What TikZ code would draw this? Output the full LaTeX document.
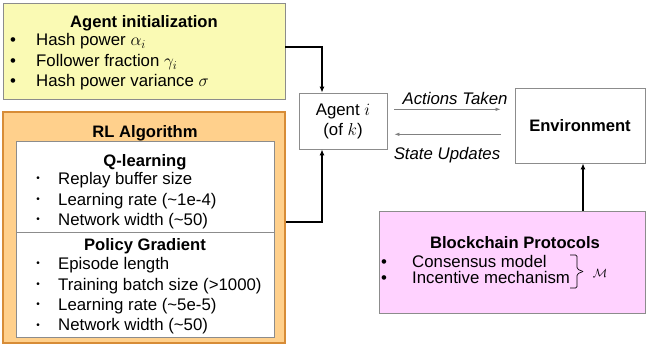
\documentclass[tikz,border=0pt]{standalone}
\usepackage{fontspec}
\setmainfont{Liberation Sans}
\usepackage{amsmath}
\usepackage{amssymb}
\usepackage{tikz}
\usetikzlibrary{arrows.meta}
\definecolor{lightyellow}{RGB}{250,250,180}
\definecolor{lightorange}{RGB}{255,208,140}
\definecolor{darkorange}{RGB}{215,140,55}
\definecolor{lightpink}{RGB}{255,210,255}
\colorlet{boxgray}{gray!90!white}

\begin{document}
\begin{tikzpicture}[x=1pt,y=-1pt,
    font=\fontsize{16.8}{20}\selectfont,
    box/.style={draw=boxgray, line width=0.8pt, rectangle, inner sep=0pt},
    head/.style={anchor=base, inner sep=0pt, font=\fontsize{16.6}{20}\selectfont\bfseries},
    item/.style={anchor=base west, inner sep=0pt},
    dot/.style={anchor=base, inner sep=0pt},
    smalldot/.style={anchor=center, inner sep=0pt, font=\fontsize{10}{12}\selectfont},
    flow/.style={-{Latex[length=6pt,width=5pt]}, line width=1.5pt},
    msg/.style={-{Latex[length=5pt,width=3.5pt]}, draw=gray, line width=0.7pt}]

      \useasboundingbox (0,0) rectangle (647,345);

      % agent initialization
      \node[box, fill=lightyellow, minimum width=282pt, minimum height=96pt] (init) at (144,51) {};
      \node[head] (inittitle) at (144,28) {Agent initialization};
      \foreach \y/\t [count=\n] in {45.7/{Hash power $\alpha_i$}, 66.7/{Follower fraction $\gamma_i$}, 86/{Hash power variance $\sigma$}} {
        \node[dot] (initdot\n) at (13,\y) {\textbullet};
        \node[item] (inititem\n) at (36,\y) {\t};
      }

      % RL algorithm
      \node[box, draw=darkorange, line width=1.8pt, fill=lightorange, minimum width=282pt, minimum height=231pt] (rl) at (144,227.5) {};
      \node[head] (rltitle) at (145,137) {RL Algorithm};
      \node[box, fill=white, minimum width=258pt, minimum height=91pt] (qlearn) at (145,186.5) {};
      \node[box, fill=white, minimum width=258pt, minimum height=105pt] (pgrad) at (145,284.5) {};

      \node[head] (qtitle) at (145,166.7) {Q-learning};
      \foreach \y/\t [count=\n] in {184/{Replay buffer size}, 205/{Learning rate (\textasciitilde1e-4)}, 225/{Network width (\textasciitilde50)}} {
        \node[smalldot] (qdot\n) at (38,\y-5) {\textbullet};
        \node[item] (qitem\n) at (58,\y) {\t};
      }

      \node[head] (pgtitle) at (145,250.7) {Policy Gradient};
      \foreach \y/\t [count=\n] in {269.3/{Episode length}, 290/{Training batch size (>1000)}, 310/{Learning rate (\textasciitilde5e-5)}, 330.7/{Network width (\textasciitilde50)}} {
        \node[smalldot] (pgdot\n) at (38,\y-5) {\textbullet};
        \node[item] (pgitem\n) at (58,\y) {\t};
      }

      % agent and environment
      \node[box, minimum width=88pt, minimum height=56pt, align=center] (agent) at (343,121) {Agent $i$\\(of $k$)};
      \node[box, minimum width=130pt, minimum height=75pt, font=\fontsize{16.6}{20}\selectfont\bfseries] (env) at (580,125.5) {Environment};

      % blockchain protocols
      \node[box, fill=lightpink, minimum width=266pt, minimum height=102pt] (bc) at (512,262) {};
      \node[head] (bctitle) at (515,248.3) {Blockchain Protocols};
      \foreach \y/\t [count=\n] in {267.3/{Consensus model}, 283.3/{Incentive mechanism}} {
        \node[dot] (bcdot\n) at (384,\y) {\textbullet};
        \node[item] (bcitem\n) at (412,\y) {\t};
      }
      \draw[line width=0.7pt, rounded corners=1.5pt] (570,255) -- (577,255) -- (577,269) -- (583,271.5);
      \draw[line width=0.7pt, rounded corners=1.5pt] (570,288) -- (577,288) -- (577,274) -- (583,271.5);
      \node[inner sep=0pt, font=\fontsize{13}{15}\selectfont] (mset) at (600,273) {$\mathcal{M}$};

      % connectors
      \draw[flow] ([yshift=4pt]init.east) -| ([xshift=-21pt]agent.north);
      \draw[flow] ([yshift=5.5pt]rl.east) -| ([xshift=-21pt]agent.south);
      \draw[flow] ([xshift=3pt]env.south |- bc.north) -- ([xshift=3pt]env.south);

      \draw[msg, shorten <=7pt, shorten >=14pt] ([yshift=11.7pt]agent.east) -- ([yshift=11.7pt]agent.east -| env.west)
        node[midway, above=4pt, xshift=4pt, inner sep=0pt, font=\fontsize{16.8}{20}\selectfont\itshape] (acts) {Actions Taken};
      \draw[msg, shorten <=14pt, shorten >=7pt] ([yshift=-13.3pt]agent.east -| env.west) -- ([yshift=-13.3pt]agent.east)
        node[midway, below=13pt, xshift=-4pt, inner sep=0pt, font=\fontsize{16.8}{20}\selectfont\itshape] (upds) {State Updates};

    \end{tikzpicture}
\end{document}
